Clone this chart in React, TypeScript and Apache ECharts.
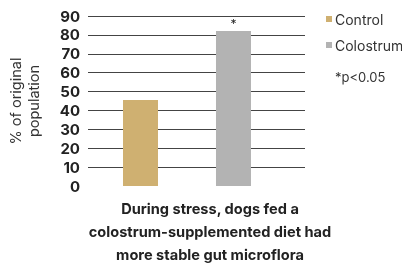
import React, { useEffect, useRef } from "react";
import * as echarts from "echarts";

const categories = ["Control", "Colostrum"];
const values = [45.5, 82];
const colors = ["#CFB071", "#B3B3B3"];
const significance = ["", "*"];
const yTicks = { min: 0, max: 90, interval: 10 };
const yName = "% of original\npopulation";
const note = "*p<0.05";
const caption = "During stress, dogs fed a\ncolostrum-supplemented diet had\nmore stable gut microflora";

export default function App() {
  const ref = useRef<HTMLDivElement>(null);
  useEffect(() => {
    if (!ref.current) return;
    const chart = echarts.init(ref.current, null, { renderer: "svg" });
    const font = "Inter, 'Noto Sans', sans-serif";
    chart.setOption({
      animation: false,
      textStyle: { fontFamily: font },
      grid: { left: 88, right: 97, top: 16, bottom: 78, containLabel: false, outerBoundsMode: "none" },
      legend: {
        orient: "vertical",
        left: 321,
        top: 6,
        icon: "rect",
        itemWidth: 6,
        itemHeight: 6,
        itemGap: 10,
        textStyle: { fontSize: 14, color: "#333", fontFamily: font, lineHeight: 16, padding: [0, 0, 0, -2] },
        data: categories,
      },
      title: {
        text: caption,
        left: 210,
        top: 197,
        padding: 0,
        textAlign: "center",
        textStyle: { fontSize: 14.6, fontWeight: "bold", color: "#222", lineHeight: 23, fontFamily: font },
      },
      graphic: [
        {
          type: "text",
          left: 335,
          top: 70,
          style: { text: note, fontSize: 13, fill: "#333", fontFamily: font },
        },
      ],
      xAxis: {
        type: "value",
        min: -0.5645,
        max: 1.769,
        show: false,
      },
      yAxis: {
        type: "value",
        min: yTicks.min,
        max: yTicks.max,
        interval: yTicks.interval,
        name: yName,
        nameLocation: "middle",
        nameRotate: 90,
        nameGap: 46,
        nameTextStyle: { fontSize: 14.5, color: "#333", lineHeight: 18, fontFamily: font },
        axisLine: { show: false },
        axisTick: { show: false },
        axisLabel: { fontSize: 15, fontWeight: "bold", color: "#222", margin: 8, fontFamily: font },
        splitLine: {
          show: true,
          lineStyle: { color: "#444", width: 1 },
          showMinLine: false,
        },
      },
      series: categories.map((c, i) => ({
        name: c,
        type: "bar",
        barWidth: 35,
        barGap: "-100%",
        itemStyle: { color: colors[i] },
        data: [[i, values[i]]],
        label: {
          show: significance[i] !== "",
          position: "top",
          distance: 2,
          formatter: significance[i],
          fontSize: 12,
          color: "#222",
        },
      })),
    });
    return () => chart.dispose();
  }, []);
  return <div ref={ref} style={{ position: "fixed", left: 0, top: 0, width: 402, height: 264 }} />;
}
